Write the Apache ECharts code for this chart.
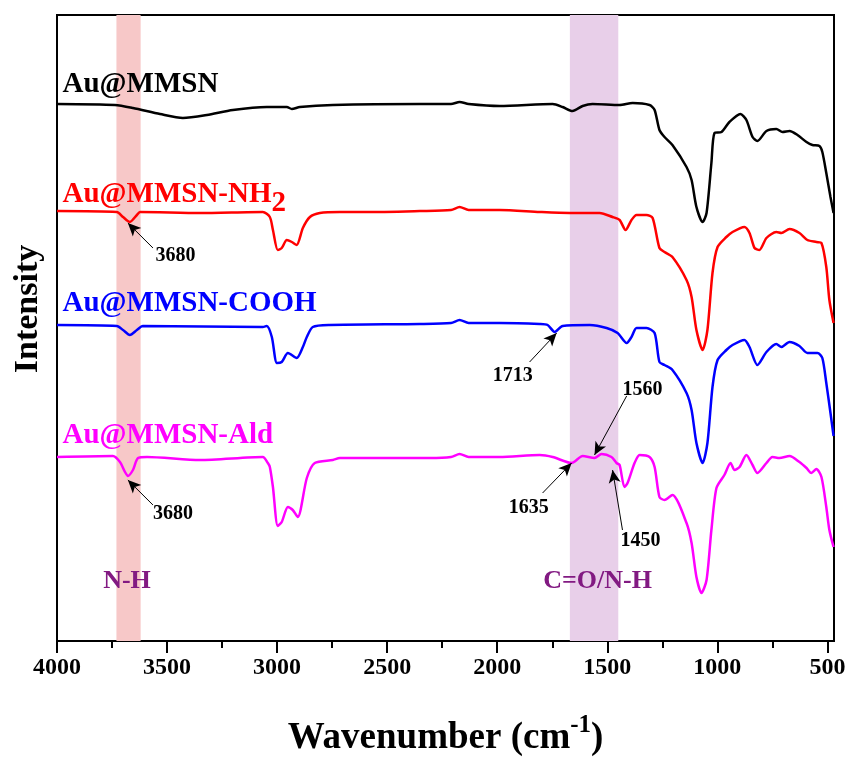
<!DOCTYPE html>
<html>
<head>
<meta charset="utf-8">
<script src="https://cdn.jsdelivr.net/npm/echarts@6/dist/echarts.min.js"></script>
<style>html,body{margin:0;padding:0;background:#fff}#c{width:846px;height:760px}</style>
</head>
<body>
<div id="c"></div>
<script>
// ---- data (wavenumber cm-1, intensity a.u. with vertical offsets) ----
const majorTicks = [4000, 3500, 3000, 2500, 2000, 1500, 1000, 500];
const minorTicks = [3750, 3250, 2750, 2250, 1750, 1250, 750];

const auMMSN = [[4000,537],[3737,536],[3655,533],[3532,527],[3428,523],[3319,526],[3201,531],[3047,534],[2956,534],[2933,532],[2897,534],[2747,536],[2352,537],[2210,537],[2171,539],[2130,537],[1989,535],[1748,537],[1703,534],[1658,530],[1612,535],[1567,537],[1444,536],[1385,538],[1308,536],[1285,531],[1263,511],[1240,504],[1204,496],[1140,474],[1117,461],[1095,434],[1067,419],[1049,428],[1027,478],[1013,508],[981,509],[945,519],[895,527],[868,521],[840,504],[818,500],[777,510],[732,512],[704,509],[672,510],[636,506],[595,499],[568,496],[536,495],[523,489],[505,468],[486,444],[472,428]];

const auMMSN_NH2 = [[4000,430],[3728,429],[3700,424],[3669,419],[3637,426],[3623,429],[3351,428],[3065,429],[3033,424],[3019,411],[2997,391],[2979,393],[2956,401],[2933,399],[2911,396],[2883,413],[2851,424],[2806,428],[2715,429],[2593,429],[2352,430],[2210,431],[2171,434],[2130,431],[1989,431],[1807,429],[1671,428],[1535,428],[1476,424],[1444,421],[1417,411],[1390,421],[1367,426],[1322,426],[1294,423],[1263,393],[1240,389],[1204,384],[1140,361],[1117,344],[1095,311],[1067,291],[1045,311],[1022,368],[999,394],[959,404],[931,409],[877,414],[854,408],[831,393],[809,391],[777,403],[732,409],[709,408],[672,412],[627,408],[591,401],[550,399],[527,398],[505,374],[491,341],[472,318]];

const auMMSN_COOH = [[4000,316],[3728,315],[3700,311],[3669,306],[3637,311],[3610,315],[3065,314],[3047,315],[3024,304],[3001,278],[2979,279],[2951,288],[2911,283],[2883,294],[2865,304],[2838,314],[2761,316],[2352,317],[2210,318],[2171,321],[2130,318],[1989,318],[1807,317],[1771,316],[1739,309],[1703,315],[1580,316],[1503,313],[1453,308],[1412,298],[1390,304],[1367,313],[1322,313],[1285,308],[1263,279],[1240,276],[1204,271],[1140,248],[1117,231],[1095,198],[1067,178],[1045,198],[1022,254],[999,281],[959,291],[931,296],[877,301],[854,294],[818,276],[777,289],[732,297],[709,294],[672,299],[627,295],[591,288],[545,288],[523,283],[505,258],[486,228],[472,205]];

const auMMSN_Ald = [[4000,184],[3746,185],[3714,179],[3691,169],[3678,165],[3655,171],[3632,183],[3591,184],[3351,181],[3065,184],[3042,178],[3033,174],[3019,154],[2997,115],[2979,119],[2951,134],[2929,131],[2906,124],[2865,163],[2829,178],[2747,181],[2715,183],[2307,183],[2210,184],[2171,187],[2130,184],[1989,184],[1807,186],[1748,184],[1662,178],[1612,185],[1558,183],[1526,187],[1481,184],[1458,178],[1444,176],[1422,154],[1408,158],[1376,178],[1353,186],[1308,184],[1285,174],[1263,144],[1240,141],[1204,146],[1140,118],[1117,98],[1095,64],[1072,48],[1049,61],[1027,111],[1004,153],[968,166],[940,178],[922,171],[899,174],[868,186],[840,176],[818,168],[777,178],[750,184],[718,183],[672,185],[627,179],[595,173],[573,168],[550,172],[527,164],[505,134],[491,111],[472,94]];

// shaded bands [from, to] in cm-1
const bandNH = [3730, 3620];
const bandCO = [1670, 1450];

// series name label anchors [wavenumber, intensity]
const nameAnchors = [[3975,556],[3975,446],[3975,337],[3975,205]];

// annotations: [text, textPos, arrowTail, arrowTip]
const annotNH2 = [['3680', [3462,385], [3564,393], [3678,418]]];
const annotCOOH = [['1713', [1930,265], [1853,279], [1730,308]]];
const annotAld = [
  ['3680', [3473,127], [3564,136], [3678,161]],
  ['1560', [1340,251], [1412,245], [1558,186]],
  ['1635', [1857,133], [1794,148], [1662,178]],
  ['1450', [1349,100], [1431,111], [1476,171]]
];
const bandLabels = [['N-H', [3682,60]], ['C=O/N-H', [1544,60]]];

// ---- chart ----
const FONT = '"Liberation Serif", "Times New Roman", serif';
const chart = echarts.init(document.getElementById('c'));

function arrows(list) {
  return {
    silent: true, symbol: ['none', 'arrow'], symbolSize: [9, 13],
    label: { show: false },
    lineStyle: { color: '#000', width: 1, type: 'solid' },
    emphasis: { disabled: true },
    data: list.map(a => [{ coord: a[2] }, { coord: a[3] }])
  };
}
function points(nameLabel, color, anchor, list, rich) {
  const data = [{
    coord: anchor, value: 0,
    label: { formatter: nameLabel, color: color, fontSize: 29, align: 'left', rich: rich }
  }];
  list.forEach(a => data.push({
    coord: a[1], value: 0,
    label: { formatter: a[0], color: '#000', fontSize: 20, align: 'center' }
  }));
  return {
    silent: true, symbol: 'circle', symbolSize: 0,
    itemStyle: { color: 'rgba(0,0,0,0)' },
    label: { show: true, position: 'inside', verticalAlign: 'middle', fontFamily: FONT, fontWeight: 'bold' },
    data: data
  };
}
function lineSeries(name, data, color, anchor, annots, label, rich) {
  return {
    name: name, type: 'line', data: data, showSymbol: false, smooth: 0.25,
    z: 3, lineStyle: { color: color, width: 2.5 }, itemStyle: { color: color },
    emphasis: { disabled: true }, animation: false,
    markLine: arrows(annots),
    markPoint: points(label, color, anchor, annots, rich)
  };
}

const subRich = {
  a: { fontFamily: FONT, fontWeight: 'bold', fontSize: 29, color: '#ff0000', lineHeight: 30, verticalAlign: 'top' },
  s: { fontFamily: FONT, fontWeight: 'bold', fontSize: 29, color: '#ff0000', lineHeight: 30, verticalAlign: 'top', padding: [9, 0, 0, 0] }
};

const option = {
  animation: false,
  backgroundColor: '#fff',
  grid: { left: 57, right: 12, top: 15, bottom: 119, show: true, borderColor: '#000', borderWidth: 2, backgroundColor: 'transparent', containLabel: false, outerBoundsMode: 'none' },
  xAxis: [{
    type: 'value', inverse: true, min: 470, max: 4000, position: 'bottom',
    axisLine: { show: true, lineStyle: { color: '#000', width: 2 } },
    axisTick: { show: true, length: 12, lineStyle: { color: '#000', width: 2 }, customValues: majorTicks },
    axisLabel: { show: true, customValues: majorTicks, formatter: v => String(v), margin: 15, color: '#000', fontFamily: FONT, fontWeight: 'bold', fontSize: 24 },
    splitLine: { show: false },
    name: '{a|Wavenumber (cm}{s|-1}{a|)}', nameLocation: 'middle', nameGap: 72,
    nameTextStyle: {
      rich: {
        a: { fontFamily: FONT, fontWeight: 'bold', fontSize: 37, color: '#000', lineHeight: 44, verticalAlign: 'bottom' },
        s: { fontFamily: FONT, fontWeight: 'bold', fontSize: 25, color: '#000', lineHeight: 44, verticalAlign: 'top' }
      }
    }
  }, {
    type: 'value', inverse: true, min: 470, max: 4000, position: 'bottom',
    axisLine: { show: false },
    axisTick: { show: true, length: 7, lineStyle: { color: '#000', width: 2 }, customValues: minorTicks },
    axisLabel: { show: false, customValues: minorTicks },
    splitLine: { show: false }
  }],
  yAxis: {
    type: 'value', min: 0, max: 626,
    axisLine: { show: true, lineStyle: { color: '#000', width: 2 } },
    axisTick: { show: false }, axisLabel: { show: false }, splitLine: { show: false },
    name: 'Intensity', nameLocation: 'middle', nameGap: 12,
    nameTextStyle: { fontFamily: FONT, fontWeight: 'bold', fontSize: 34, color: '#000', padding: [0, 0, 0, 38] }
  },
  series: [
    {
      name: 'bands', type: 'line', data: [], z: 1, silent: true,
      markArea: {
        silent: true,
        data: [
          [{ xAxis: bandNH[0], itemStyle: { color: '#f7c8c8' } }, { xAxis: bandNH[1] }],
          [{ xAxis: bandCO[0], itemStyle: { color: '#e8cfe9' } }, { xAxis: bandCO[1] }]
        ]
      },
      markPoint: {
        silent: true, symbol: 'circle', symbolSize: 0, itemStyle: { color: 'rgba(0,0,0,0)' },
        label: { show: true, position: 'inside', align: 'center', verticalAlign: 'middle', fontFamily: FONT, fontWeight: 'bold', fontSize: 26, color: '#821a82' },
        data: bandLabels.map(b => ({ coord: b[1], value: 0, label: { formatter: b[0] } }))
      }
    },
    lineSeries('Au@MMSN', auMMSN, '#000000', nameAnchors[0], [], 'Au@MMSN'),
    lineSeries('Au@MMSN-NH2', auMMSN_NH2, '#ff0000', nameAnchors[1], annotNH2, '{a|Au@MMSN-NH}{s|2}', subRich),
    lineSeries('Au@MMSN-COOH', auMMSN_COOH, '#0000ff', nameAnchors[2], annotCOOH, 'Au@MMSN-COOH'),
    lineSeries('Au@MMSN-Ald', auMMSN_Ald, '#ff00ff', nameAnchors[3], annotAld, 'Au@MMSN-Ald')
  ]
};
chart.setOption(option);
</script>
</body>
</html>
